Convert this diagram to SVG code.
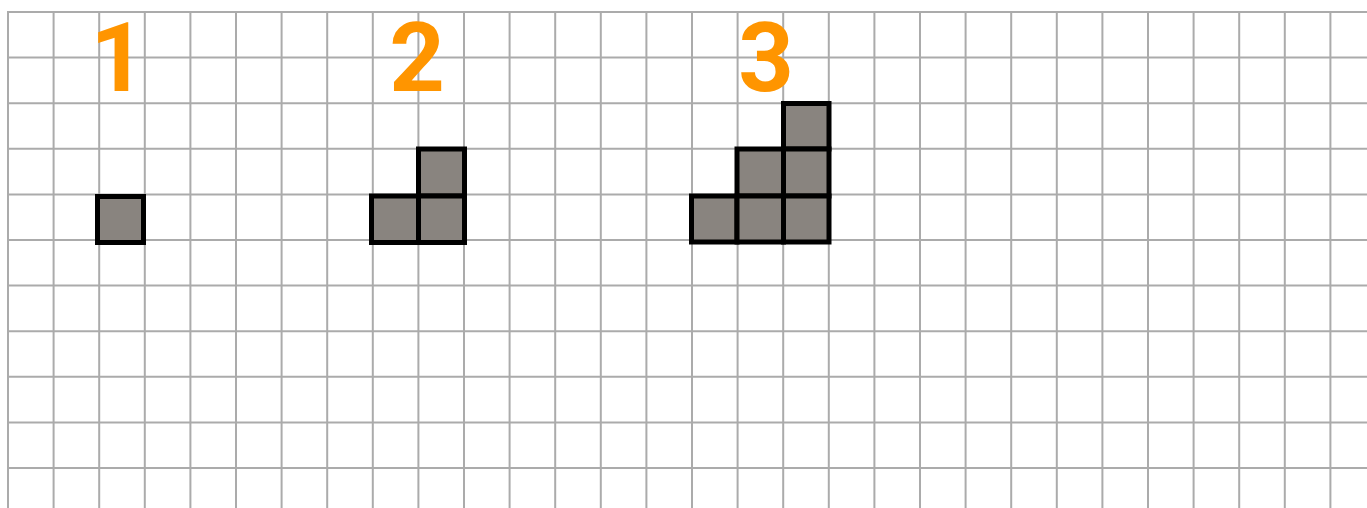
<svg xmlns="http://www.w3.org/2000/svg" width="1367" height="508" viewBox="0 0 1367 508">
<defs>
<style>
.grid line{stroke:#ababab;stroke-width:2}
.cell{fill:#89847f;stroke:#000;stroke-width:5;stroke-linejoin:miter}
.num{font-family:Roboto,"Liberation Sans",Arial,sans-serif;font-weight:bold;font-size:97px;fill:#ff9500;text-anchor:middle}
</style>
</defs>
<rect width="1367" height="508" fill="#fff"/>
<g id="grid" class="grid">
<line x1="8" y1="12" x2="8" y2="508"/><line x1="53.6" y1="12" x2="53.6" y2="508"/><line x1="99.2" y1="12" x2="99.2" y2="508"/><line x1="144.8" y1="12" x2="144.8" y2="508"/><line x1="190.4" y1="12" x2="190.4" y2="508"/><line x1="236" y1="12" x2="236" y2="508"/><line x1="281.6" y1="12" x2="281.6" y2="508"/><line x1="327.2" y1="12" x2="327.2" y2="508"/><line x1="372.8" y1="12" x2="372.8" y2="508"/><line x1="418.4" y1="12" x2="418.4" y2="508"/><line x1="464" y1="12" x2="464" y2="508"/><line x1="509.6" y1="12" x2="509.6" y2="508"/><line x1="555.2" y1="12" x2="555.2" y2="508"/><line x1="600.8" y1="12" x2="600.8" y2="508"/><line x1="646.4" y1="12" x2="646.4" y2="508"/><line x1="692" y1="12" x2="692" y2="508"/><line x1="737.6" y1="12" x2="737.6" y2="508"/><line x1="783.2" y1="12" x2="783.2" y2="508"/><line x1="828.8" y1="12" x2="828.8" y2="508"/><line x1="874.4" y1="12" x2="874.4" y2="508"/><line x1="920" y1="12" x2="920" y2="508"/><line x1="965.6" y1="12" x2="965.6" y2="508"/><line x1="1011.2" y1="12" x2="1011.2" y2="508"/><line x1="1056.8" y1="12" x2="1056.8" y2="508"/><line x1="1102.4" y1="12" x2="1102.4" y2="508"/><line x1="1148" y1="12" x2="1148" y2="508"/><line x1="1193.6" y1="12" x2="1193.6" y2="508"/><line x1="1239.2" y1="12" x2="1239.2" y2="508"/><line x1="1284.8" y1="12" x2="1284.8" y2="508"/><line x1="1330.4" y1="12" x2="1330.4" y2="508"/>
<line x1="7" y1="12" x2="1367" y2="12"/><line x1="7" y1="57.6" x2="1367" y2="57.6"/><line x1="7" y1="103.2" x2="1367" y2="103.2"/><line x1="7" y1="148.8" x2="1367" y2="148.8"/><line x1="7" y1="194.4" x2="1367" y2="194.4"/><line x1="7" y1="240" x2="1367" y2="240"/><line x1="7" y1="285.6" x2="1367" y2="285.6"/><line x1="7" y1="331.2" x2="1367" y2="331.2"/><line x1="7" y1="376.8" x2="1367" y2="376.8"/><line x1="7" y1="422.4" x2="1367" y2="422.4"/><line x1="7" y1="468" x2="1367" y2="468"/>
</g>
<g id="figure1">
<text class="num" x="118" y="91">1</text>
<rect class="cell" x="97.5" y="196.5" width="46" height="46"/>
</g>
<g id="figure2">
<text class="num" x="417" y="91">2</text>
<rect class="cell" x="418.5" y="149" width="46" height="47"/>
<rect class="cell" x="371.5" y="196" width="47" height="46.5"/>
<rect class="cell" x="418.5" y="196" width="46" height="46.5"/>
</g>
<g id="figure3">
<text class="num" x="766" y="91">3</text>
<rect class="cell" x="783.5" y="103.5" width="45.5" height="45.5"/>
<rect class="cell" x="737" y="149" width="46.5" height="47"/>
<rect class="cell" x="783.5" y="149" width="45.5" height="47"/>
<rect class="cell" x="691.5" y="196" width="45.5" height="46"/>
<rect class="cell" x="737" y="196" width="46.5" height="46"/>
<rect class="cell" x="783.5" y="196" width="45.5" height="46"/>
</g>
</svg>
